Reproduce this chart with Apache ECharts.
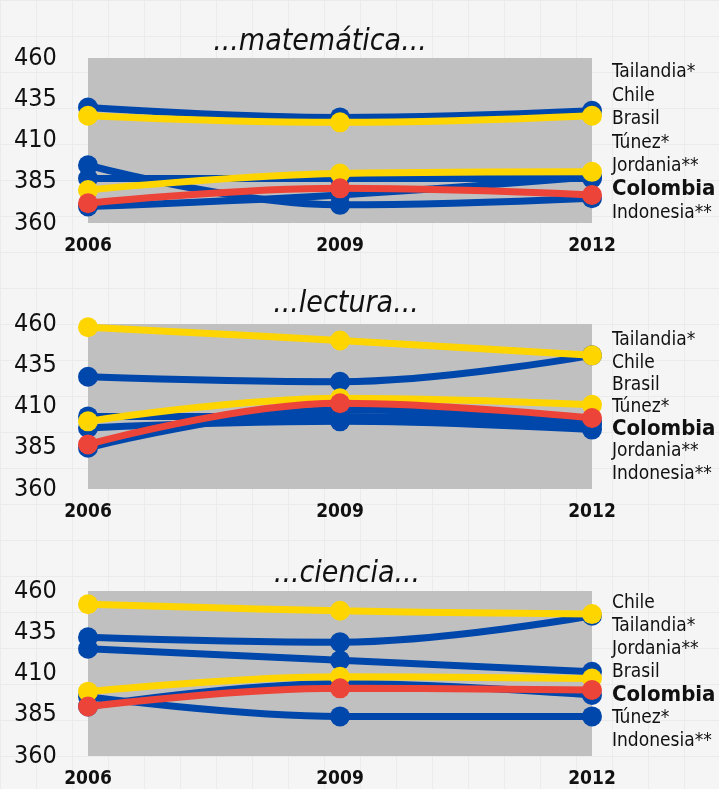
<!DOCTYPE html>
<html>
<head>
<meta charset="utf-8">
<script src="https://cdn.jsdelivr.net/npm/echarts@6/dist/echarts.min.js"></script>
<style>
  html, body { margin: 0; padding: 0; }
  #chart { width: 719px; height: 789px; }
</style>
</head>
<body>
<div id="chart"></div>
<script>
// datos PISA (puntajes promedio)
const years = ['2006', '2009', '2012']
const countries = ['Tailandia*', 'Chile', 'Brasil', 'Túnez*', 'Jordania**', 'Colombia', 'Indonesia**']
const yTicks = [360, 385, 410, 435, 460]

// mismo orden que countries
const matematica = [
  [430, 424, 428],
  [425, 421, 425],
  [380, 390, 391],
  [370, 377, 388],
  [387, 387, 387],
  [372, 381, 377],
  [395, 371, 375],
]
const lectura = [
  [428, 425, 441],
  [458, 450, 441],
  [401, 415, 411],
  [385, 408, 401],
  [404, 404, 399],
  [387, 412, 403],
  [397, 401, 396],
]
const ciencia = [
  [432, 429, 445],
  [452, 448, 446],
  [399, 408, 407],
  [390, 404, 397],
  [425, 418, 411],
  [390, 401, 400],
  [396, 384, 384],
]

// orden de las etiquetas de la derecha en cada panel
const labelsMatematica = ['Tailandia*', 'Chile', 'Brasil', 'Túnez*', 'Jordania**', 'Colombia', 'Indonesia**']
const labelsLectura = ['Tailandia*', 'Chile', 'Brasil', 'Túnez*', 'Colombia', 'Jordania**', 'Indonesia**']
const labelsCiencia = ['Chile', 'Tailandia*', 'Jordania**', 'Brasil', 'Colombia', 'Túnez*', 'Indonesia**']

const BLUE = '#0047ab'
const YELLOW = '#ffd500'
const RED = '#ec4438'
const countryColors = [BLUE, YELLOW, YELLOW, BLUE, BLUE, RED, BLUE]
const FONT = '"DejaVu Sans Condensed", "Noto Sans", sans-serif'

const panels = [
  { title: '...matemática...', data: matematica, labels: labelsMatematica, top: 58, titleX: 315, titleY: 22, labelStart: 16, labelGap: 23.4 },
  { title: '...lectura...', data: lectura, labels: labelsLectura, top: 324, titleX: 341, titleY: 284, labelStart: 18, labelGap: 22.2 },
  { title: '...ciencia...', data: ciencia, labels: labelsCiencia, top: 591, titleX: 342, titleY: 554, labelStart: 14, labelGap: 23 },
]
const GRID_H = 165

// papel cuadriculado de fondo
const makePaper = () => {
  const c = document.createElement('canvas')
  c.width = 36
  c.height = 36
  const ctx = c.getContext('2d')
  ctx.fillStyle = '#f5f5f5'
  ctx.fillRect(0, 0, 36, 36)
  ctx.strokeStyle = '#ebebeb'
  ctx.lineWidth = 1
  ctx.beginPath()
  ctx.moveTo(0, 0.5); ctx.lineTo(36, 0.5)
  ctx.moveTo(0.5, 0); ctx.lineTo(0.5, 36)
  ctx.stroke()
  return c
}

const chart = echarts.init(document.getElementById('chart'))

const grids = []
const xAxes = []
const yAxes = []
const series = []
const titles = []
const graphics = []

// orden de dibujo: azul abajo, amarillo encima, Colombia al final
const drawOrder = countries.map((_, i) => i).sort((a, b) => {
  const rank = (i) => (countryColors[i] === BLUE ? 0 : countryColors[i] === YELLOW ? 1 : 2)
  return rank(a) - rank(b)
})

panels.forEach((p, pi) => {
  grids.push({
    left: 88, right: 127, top: p.top, height: GRID_H,
    show: true, backgroundColor: '#c0c0c0', borderWidth: 0,
  })
  xAxes.push({
    type: 'category', gridIndex: pi, data: years, boundaryGap: false,
    axisLine: { show: false }, axisTick: { show: false },
    axisLabel: { color: '#111', fontFamily: FONT, fontWeight: 'bold', fontSize: 19, margin: 14 },
  })
  yAxes.push({
    type: 'value', gridIndex: pi, min: yTicks[0], max: yTicks[yTicks.length - 1], interval: 25,
    axisLine: { show: false }, axisTick: { show: false }, splitLine: { show: false },
    axisLabel: { color: '#111', fontFamily: FONT, fontSize: 25, align: 'left', margin: 74 },
  })
  titles.push({
    text: p.title, left: p.titleX, top: p.titleY, textAlign: 'center',
    textStyle: { fontFamily: FONT, fontSize: 30, fontWeight: 'normal', fontStyle: 'italic', color: '#111' },
  })
  drawOrder.forEach((ci, k) => {
    series.push({
      name: countries[ci], type: 'line', xAxisIndex: pi, yAxisIndex: pi,
      data: p.data[ci], smooth: 0.4, symbol: 'circle', symbolSize: 20,
      z: 2 + k, lineStyle: { color: countryColors[ci], width: 7 },
      itemStyle: { color: countryColors[ci] }, animation: false,
    })
  })
  p.labels.forEach((name, i) => {
    const bold = name === 'Colombia'
    graphics.push({
      type: 'text', left: 612, top: p.top + p.labelStart + i * p.labelGap - (bold ? 13 : 11),
      style: {
        text: name, fill: '#111', font: (bold ? 'bold 22px ' : '19px ') + FONT,
      },
    })
  })
})

chart.setOption({
  backgroundColor: { image: makePaper(), repeat: 'repeat' },
  title: titles,
  grid: grids,
  xAxis: xAxes,
  yAxis: yAxes,
  series: series,
  graphic: graphics,
})
</script>
</body>
</html>
